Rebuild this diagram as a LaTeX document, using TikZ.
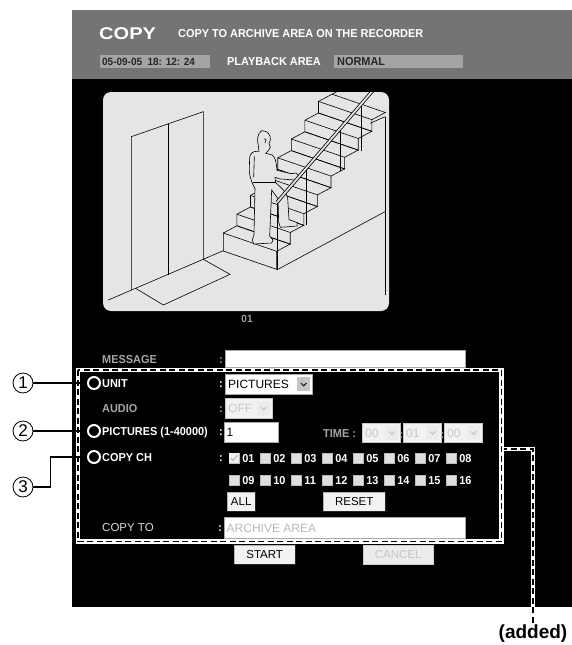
\documentclass[tikz,border=0pt]{standalone}
\usepackage{fontspec}
\setmainfont{Liberation Sans}
\newfontfamily\titlefont[FakeStretch=1.18]{Liberation Sans}
\newfontfamily\scrfont[FakeStretch=0.95]{Liberation Sans}
\usetikzlibrary{positioning}

\definecolor{hdrgray}{HTML}{747474}
\definecolor{fldgray}{HTML}{A4A4A4}
\definecolor{camgray}{HTML}{E4E5E6}
\definecolor{lblgray}{HTML}{A6A6A6}
\definecolor{offgray}{HTML}{C6C6C6}
\definecolor{btngray}{HTML}{F2F2F2}

\tikzset{
  scrtxt/.style={font=\scrfont\bfseries\fontsize{11.5}{13}\selectfont, text=white, inner sep=0pt,
    text height=8.2pt, text depth=0pt, anchor=west},
  dimtxt/.style={scrtxt, text=lblgray},
  valtxt/.style={scrtxt, font=\fontsize{12}{14}\selectfont, text height=8.6pt},
  field/.style={draw=gray!70, fill=white, inner sep=0pt, anchor=north west, minimum height=17pt},
  ddbox/.style={field, minimum height=20pt},
  ddbtn/.style={fill=gray!45, inner sep=0pt, minimum width=13pt, minimum height=14pt},
  chev/.style={line width=1.1pt, gray!30!black},
  chkbox/.style={fill=gray!25, draw=gray!55, inner sep=0pt, minimum size=10pt},
  btn/.style={draw=gray!60, fill=btngray, inner sep=0pt, anchor=north west, minimum height=19pt,
    font=\fontsize{11.5}{13}\selectfont, text height=8.2pt, text depth=0pt},
  selline/.style={draw=black, line width=1.4pt, dash pattern=on 6pt off 3.5pt,
    preaction={draw=white, line width=4.2pt, solid}},
  callnum/.style={circle, draw=black, line width=0.8pt, fill=white, minimum size=20pt, inner sep=0pt,
    font=\fontsize{17}{18}\selectfont},
  calldot/.style={circle, fill=black, draw=white, line width=2pt, minimum size=12pt, inner sep=0pt},
  callline/.style={line width=1.6pt}
}

\begin{document}
\begin{tikzpicture}[x=1pt,y=-1pt]
\useasboundingbox (0,0) rectangle (572,645);

% Screen background
\fill[hdrgray] (72,10) rectangle (572,79);
\fill[black] (72,79) rectangle (572,607);

% Header
\node[font=\titlefont\bfseries\fontsize{17}{20}\selectfont, text=white, inner sep=0pt, anchor=west,
  text height=12.2pt, text depth=0pt] (title) at (99,33) {COPY};
\node[scrtxt] (subtitle) at (178,33) {COPY TO ARCHIVE AREA ON THE RECORDER};
\node[fill=fldgray, minimum width=110pt, minimum height=13pt, inner sep=0pt, anchor=north west] (datebox) at (100,55) {};
\node[scrtxt, text=black!85, font=\scrfont\bfseries\fontsize{10.5}{12}\selectfont, text height=7.5pt, right=2pt of datebox.west] (dateval) {05-09-05 \ 18: 12: 24};
\node[scrtxt] (pbarea) at (227,61.5) {PLAYBACK AREA};
\node[fill=fldgray, minimum width=129pt, minimum height=13pt, inner sep=0pt, anchor=north west] (normbox) at (334,55) {};
\node[scrtxt, text=black!85, right=3pt of normbox.west] (normval) {NORMAL};

% Camera picture
\fill[camgray, rounded corners=8pt] (103,92) rectangle (389,311);
\begin{scope}
\clip[rounded corners=8pt] (103,92) rectangle (389,311);
% elevator and floor
\begin{scope}[shift={(90,85)}, scale=1/3, line width=0.6pt]
\draw (124,615) -- (124,155) -- (340,80) -- (340,525);
\draw (235,117) -- (235,570);
\draw (55,645) -- (400,497);
\draw (137,610) -- (220,660) -- (420,568) -- (340,523);
\draw (560,555) -- (885,380);
\draw (885,95) -- (885,630);
\draw (840,115) -- (885,95);
\end{scope}
% stairs
\foreach \i in {0,...,7} {
  \pgfmathsetmacro{\rise}{\i==0 ? 18 : 11.6}
  \draw[line width=0.6pt] ({223.3+13.6*\i},{233-18.8*\i}) -- ++(53.3,18.3) -- ++(0,\rise) -- ++(-53.3,-18.3) -- cycle;
  \draw[line width=0.6pt] ({223.3+13.6*\i},{233-18.8*\i}) -- ++(13.6,-7.2) -- ++(53.3,18.3) -- ++(-13.6,7.2);
}
\draw[line width=0.6pt] (332.1,94.2) -- ++(30,-15.9);
\draw[line width=0.6pt] (277,251) -- (277,270);
% person
\begin{scope}[shift={(215,88)}, scale=1/3, line width=0.6pt]
\filldraw[fill=camgray]
 (140,128) .. controls (158,128) and (168,140) .. (166,156)
 -- (162,166) -- (166,178) -- (160,188) -- (152,196)
 -- (172,201) .. controls (182,210) and (184,225) .. (186,247)
 -- (228,257) -- (244,255) -- (252,266) -- (241,276) -- (196,273)
 -- (180,268) -- (182,284) .. controls (200,300) and (214,312) .. (218,330)
 -- (222,395) -- (247,404) -- (246,414) -- (196,418) -- (191,402)
 -- (189,332) -- (170,306) -- (164,444) -- (174,456) -- (170,465)
 -- (116,468) -- (112,456) -- (117,440) -- (120,302)
 -- (112,286) .. controls (106,270) and (102,255) .. (103,240)
 -- (104,208) .. controls (106,196) and (114,190) .. (124,190)
 -- (132,190) -- (130,172) .. controls (126,160) and (126,136) .. (140,128) -- cycle;
\draw (114,282) -- (182,282);
\draw (118,205) -- (116,268);
\draw (148,152) .. controls (153,150) and (156,160) .. (150,165);
\end{scope}
% handrail and posts
\draw[line width=0.6pt] (277,202.3) -- (277,251);
\foreach \x/\top/\bot in {306.7/167.7/224.7, 340/129/171, 361.7/103.6/151}
  \draw[line width=0.6pt] (\x,\top) -- (\x,\bot);
\draw[line width=3.4pt] (277,202.3) -- (375,88);
\draw[line width=1.8pt, camgray] (277,202.3) -- (375,88);
\end{scope}
\node[dimtxt, anchor=center, text=gray!75, font=\scrfont\bfseries\fontsize{10.5}{12}\selectfont] (camno) at (247,318) {01};

% Form rows
\node[dimtxt] (lblmsg) at (102,359) {MESSAGE};
\node[dimtxt] (colmsg) at (219,359) {:};
\node[field, minimum width=240pt] (msgbox) at (225,350) {};

\node[scrtxt] (lblunit) at (102,383) {UNIT};
\node[scrtxt] (colunit) at (219,383) {:};
\node[ddbox, minimum width=87pt] (unitdd) at (225,374) {};
\node[valtxt, text=black, right=3pt of unitdd.west] (unitval) {PICTURES};
\node[ddbtn, left=2pt of unitdd.east] (unitarr) {};
\draw[chev] ([shift={(-2.8,-1.2)}]unitarr.center) -- ([shift={(0,1.6)}]unitarr.center) -- ([shift={(2.8,-1.2)}]unitarr.center);

\node[dimtxt] (lblaudio) at (102,408) {AUDIO};
\node[dimtxt] (colaudio) at (219,408) {:};
\node[ddbox, minimum width=47pt, fill=btngray, draw=offgray] (audiodd) at (225,398) {};
\node[valtxt, text=offgray, right=3pt of audiodd.west] (audioval) {OFF};
\node[ddbtn, fill=gray!15, left=2pt of audiodd.east] (audioarr) {};
\draw[chev, offgray] ([shift={(-2.8,-1.2)}]audioarr.center) -- ([shift={(0,1.6)}]audioarr.center) -- ([shift={(2.8,-1.2)}]audioarr.center);

\node[scrtxt] (lblpics) at (102,431) {PICTURES (1-40000)};
\node[scrtxt] (colpics) at (219,431) {:};
\node[ddbox, minimum width=54pt] (picsbox) at (224,422) {};
\node[valtxt, text=black, right=2.5pt of picsbox.west] (picsval) {1};

\node[dimtxt] (lbltime) at (323,433) {TIME :};
\foreach \x/\t/\n in {362/00/ta, 403/01/tb, 444/00/tc} {
  \node[ddbox, minimum width=38pt, minimum height=19pt, fill=btngray, draw=offgray] (\n dd) at (\x,423) {};
  \node[valtxt, text=offgray, right=3pt of \n dd.west] (\n val) {\t};
  \node[ddbtn, fill=gray!15, left=2pt of \n dd.east] (\n arr) {};
  \draw[chev, offgray] ([shift={(-2.8,-1.2)}]\n arr.center) -- ([shift={(0,1.6)}]\n arr.center) -- ([shift={(2.8,-1.2)}]\n arr.center);
}
\node[dimtxt, text=gray!80] (tcol1) at (399.5,434) {:};
\node[dimtxt, text=gray!80] (tcol2) at (440.5,434) {:};

\node[scrtxt] (lblch) at (102,457) {COPY CH};
\node[scrtxt] (colch) at (219,457) {:};
\foreach \k/\a/\b in {0/01/09, 1/02/10, 2/03/11, 3/04/12, 4/05/13, 5/06/14, 6/07/15, 7/08/16} {
  \node[chkbox] (cb\a) at ({234+31*\k},458) {};
  \node[scrtxt, right=3pt of cb\a.east] (cbl\a) {\a};
  \node[chkbox] (cb\b) at ({234+31*\k},480) {};
  \node[scrtxt, right=3pt of cb\b.east] (cbl\b) {\b};
}
\fill[gray!12] (cb01.north west) rectangle (cb01.south east);
\draw[gray!55, line width=1.1pt] ([shift={(-3,0)}]cb01.center) -- ([shift={(-1,2.6)}]cb01.center) -- ([shift={(3.5,-3)}]cb01.center);

% Buttons
\node[btn, minimum width=28pt] (allbtn) at (227,492) {ALL};
\node[btn, minimum width=62pt] (resetbtn) at (323,492) {RESET};
\node[btn, minimum width=61pt] (startbtn) at (234,545) {START};
\node[btn, minimum width=70pt, fill=gray!15, draw=gray!40, text=offgray] (cancelbtn) at (363,545) {CANCEL};
\foreach \b in {allbtn, resetbtn, startbtn}
  \draw[gray!30!black, line width=1pt] (\b.south west) -- (\b.south east) -- (\b.north east);

\node[valtxt, font=\fontsize{11.5}{13}\selectfont, text=white!85!black] (lblcopyto) at (102,527) {COPY TO};
\node[scrtxt] (colcopyto) at (218,527) {:};
\node[ddbox, minimum width=241pt, minimum height=21pt] (copytobox) at (224,517) {};
\node[valtxt, text=gray!55, right=2.5pt of copytobox.west] (copytoval) {ARCHIVE AREA};

% Added settings frame
\node[minimum width=423pt, minimum height=171pt, inner sep=0pt, anchor=north west] (selbox) at (78,370) {};
\node[font=\bfseries\fontsize{19}{22}\selectfont, inner sep=2pt] (added) at (533,634) {(added)};
\coordinate (selexit) at (501,449);
\draw[selline] (selexit) -| (added.north);
\draw[selline] (selbox.north west) rectangle (selbox.south east);

% Callouts
\node[callnum] (c1) at (23,383) {1};
\node[callnum] (c2) at (23,431) {2};
\node[callnum] (c3) at (23,487) {3};
\node[calldot] (d1) at (94,383) {};
\node[calldot] (d2) at (94,431) {};
\node[calldot] (d3) at (94,457) {};
\draw[callline] (c1) -- (d1);
\draw[callline] (c2) -- (d2);
\draw[callline] (c3.east) -- ++(17,0) |- (d3);
\end{tikzpicture}
\end{document}
